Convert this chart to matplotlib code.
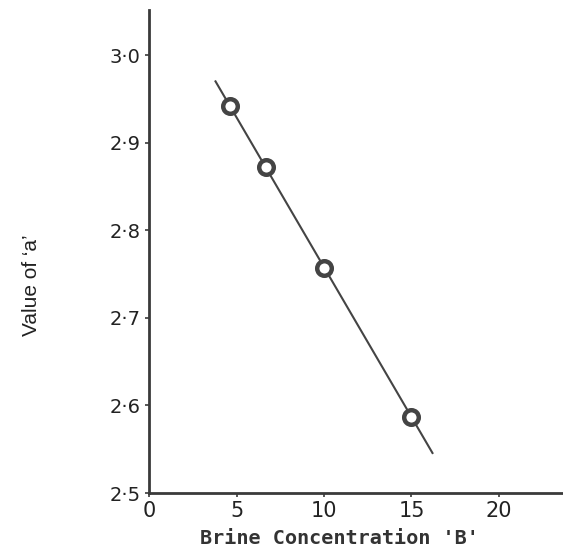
import matplotlib.pyplot as plt
import numpy as np

# values
brine = [4.6, 6.7, 10.0, 15.0]
a_value = [2.942, 2.873, 2.757, 2.587]
fit_range = [3.8, 16.2]

xticks = [0, 5, 10, 15, 20]
yticks = [2.5, 2.6, 2.7, 2.8, 2.9, 3.0]
ytick_labels = ['2·5', '2·6', '2·7', '2·8', '2·9', '3·0']

ink = '#3a3a3a'

fig = plt.figure(figsize=(5.63, 5.54), dpi=100)
ax = fig.add_axes([0.2647, 0.1101, 0.7353, 0.8719])

# straight line through the points
coef = np.polyfit(brine, a_value, 1)
fx = np.array(fit_range)
ax.plot(fx, np.polyval(coef, fx), color='#444444', lw=1.5, zorder=2)
ax.plot(brine, a_value, 'o', ms=10.5, mfc='white', mec='#444444', mew=3.2, zorder=3)

ax.set_xlim(0, 23.66)
ax.set_ylim(2.5, 3.052)

ax.spines['top'].set_visible(False)
ax.spines['right'].set_visible(False)
for s in ['left', 'bottom']:
    ax.spines[s].set_color(ink)
    ax.spines[s].set_linewidth(2)

ax.set_xticks(xticks)
ax.set_xticklabels([str(t) for t in xticks], fontsize=15, color='#222222')
ax.set_yticks(yticks)
ax.set_yticklabels(ytick_labels, fontsize=14, color='#222222')
ax.tick_params(direction='out', length=3, width=1.2, color=ink, pad=3)

ax.set_xlabel("Brine Concentration 'B'", fontsize=14.5, fontweight='bold',
              family='DejaVu Sans Mono', color='#333333')
ax.xaxis.set_label_coords(0.46, -0.075)
ax.set_ylabel('Value of ‘a’', fontsize=15, family='Liberation Sans', color='#222222')
ax.yaxis.set_label_coords(-0.26, 0.43)

fig.savefig('out.png', dpi=100)
